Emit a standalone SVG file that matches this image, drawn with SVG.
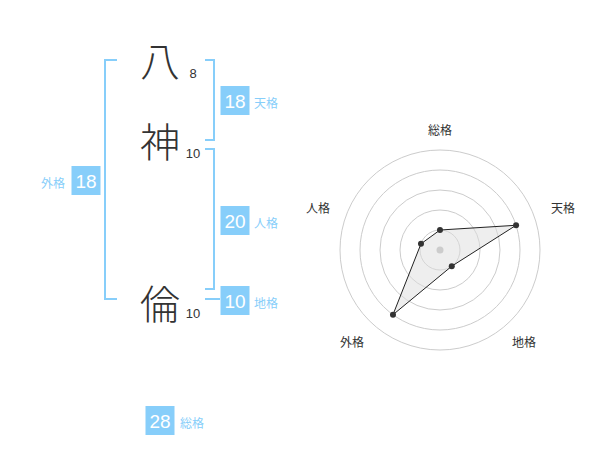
<svg xmlns="http://www.w3.org/2000/svg" width="600" height="470" viewBox="0 0 600 470">
<style>
.kanji{font-family:"Noto Sans CJK JP","Noto Sans CJK SC",sans-serif;font-size:40px;font-weight:300;fill:#333;text-anchor:middle}
.cnt{font-family:"Liberation Sans",Arial,sans-serif;font-size:13px;fill:#333;text-anchor:middle}
.br{fill:none;stroke:#87cefa;stroke-width:2}
.box{fill:#87cefa}
.bt{font-family:"Liberation Sans",Arial,sans-serif;font-size:19px;fill:#fff;text-anchor:middle}
.lb{font-family:"Noto Sans CJK JP",sans-serif;font-size:12px;fill:#87cefa}
.ring{fill:none;stroke:#cccccc;stroke-width:1}
.rl{font-family:"Noto Sans CJK JP",sans-serif;font-size:12px;fill:#333;text-anchor:middle}
.dot{fill:#333}
</style>
<rect width="600" height="470" fill="#fff"/>
<g id="name">
<text class="kanji" x="160" y="76">八</text>
<text class="cnt" x="193" y="78">8</text>
<text class="kanji" x="160" y="157">神</text>
<text class="cnt" x="193" y="158">10</text>
<text class="kanji" x="160" y="319">倫</text>
<text class="cnt" x="193" y="318">10</text>
</g>
<g id="connectors">
<path class="br" d="M117,60 H105 V299 H117"/>
<path class="br" d="M205,60 H214 V140 H205"/>
<path class="br" d="M205,149 H214 V289 H205"/>
<path class="br" d="M205,299 H220"/>
</g>
<g id="tenkaku">
<rect class="box" x="220.5" y="86" width="29" height="29"/>
<text class="bt" x="235" y="107.5">18</text>
<text class="lb" x="254" y="108">天格</text>
</g>
<g id="jinkaku">
<rect class="box" x="220.5" y="206" width="29" height="29"/>
<text class="bt" x="235" y="227.5">20</text>
<text class="lb" x="254" y="228">人格</text>
</g>
<g id="chikaku">
<rect class="box" x="220.5" y="286" width="29" height="29"/>
<text class="bt" x="235" y="307.5">10</text>
<text class="lb" x="254" y="308">地格</text>
</g>
<g id="gaikaku">
<rect class="box" x="71.5" y="166" width="29" height="29"/>
<text class="bt" x="86" y="187.5">18</text>
<text class="lb" x="41" y="188">外格</text>
</g>
<g id="soukaku">
<rect class="box" x="145.5" y="406" width="29" height="29"/>
<text class="bt" x="160" y="427.5">28</text>
<text class="lb" x="180" y="428">総格</text>
</g>
<g id="radar">
<circle class="ring" cx="440" cy="250" r="20"/>
<circle class="ring" cx="440" cy="250" r="40"/>
<circle class="ring" cx="440" cy="250" r="60"/>
<circle class="ring" cx="440" cy="250" r="80"/>
<circle class="ring" cx="440" cy="250" r="100"/>
<polygon points="440,230 516.08,225.28 451.76,266.18 392.98,314.72 420.98,243.82" fill="#dddddd" fill-opacity="0.5" stroke="#222" stroke-width="1"/>
<circle cx="440" cy="250" r="3.5" fill="#cccccc"/>
<circle class="dot" cx="440" cy="230" r="3"/>
<circle class="dot" cx="516.08" cy="225.28" r="3"/>
<circle class="dot" cx="451.76" cy="266.18" r="3"/>
<circle class="dot" cx="392.98" cy="314.72" r="3"/>
<circle class="dot" cx="420.98" cy="243.82" r="3"/>
<text class="rl" x="440" y="135">総格</text>
<text class="rl" x="563" y="213">天格</text>
<text class="rl" x="524" y="347">地格</text>
<text class="rl" x="352" y="347">外格</text>
<text class="rl" x="318" y="213">人格</text>
</g>
</svg>
